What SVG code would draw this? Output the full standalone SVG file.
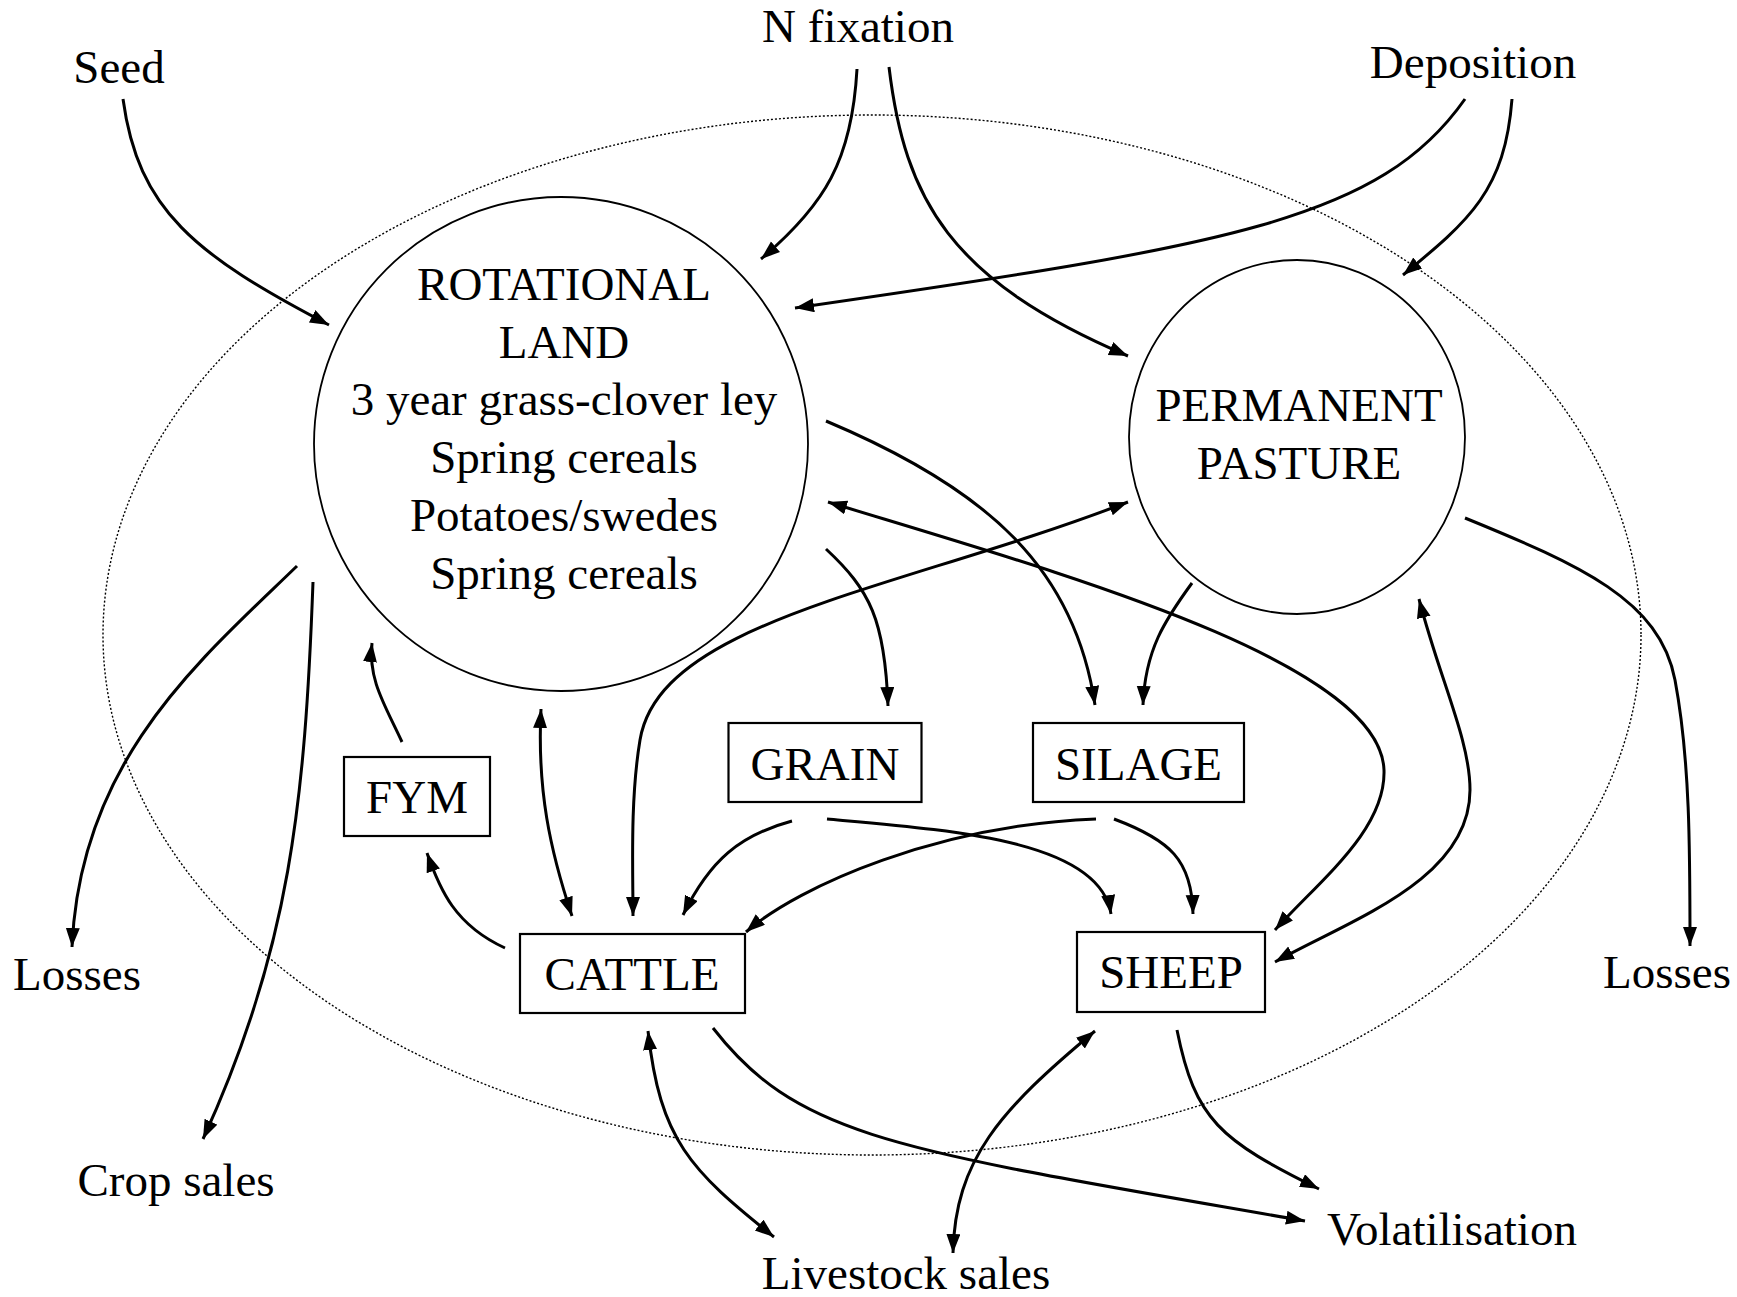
<svg xmlns="http://www.w3.org/2000/svg" width="1737" height="1297" viewBox="0 0 1737 1297">
<style>
text{font-family:"Liberation Serif","Times New Roman",serif;font-size:47px;fill:#000;text-anchor:middle}
.c{fill:none;stroke:#000;stroke-width:3}
.a{marker-end:url(#ah)}
.d{marker-start:url(#ah);marker-end:url(#ah)}
.n{fill:#fff;stroke:#000;stroke-width:1.8}
.b{fill:#fff;stroke:#000;stroke-width:2.2}
</style>
<defs>
<marker id="ah" markerUnits="userSpaceOnUse" markerWidth="22" markerHeight="16" refX="19" refY="7" orient="auto-start-reverse">
<path d="M0,0 L19,7 L0,14 z" fill="#000"/>
</marker>
</defs>
<rect width="1737" height="1297" fill="#fff"/>
<ellipse id="farm-boundary" cx="872" cy="635" rx="769" ry="520" fill="none" stroke="#000" stroke-width="1.4" stroke-dasharray="2,2"/>
<g id="rotational-land"><circle class="n" cx="561" cy="444" r="247"/>
<text x="564" y="300">ROTATIONAL</text><text x="564" y="358">LAND</text><text x="564" y="415">3 year grass-clover ley</text><text x="564" y="473">Spring cereals</text><text x="564" y="531">Potatoes/swedes</text><text x="564" y="589">Spring cereals</text></g>
<g id="permanent-pasture"><ellipse class="n" cx="1297" cy="437" rx="168" ry="177"/>
<text x="1299" y="421">PERMANENT</text><text x="1299" y="479">PASTURE</text></g>
<g id="fym"><rect class="b" x="344" y="757" width="146" height="79"/><text x="417" y="813">FYM</text></g>
<g id="grain"><rect class="b" x="728.5" y="723" width="193" height="79"/><text x="825" y="780">GRAIN</text></g>
<g id="silage"><rect class="b" x="1033" y="723" width="211" height="79"/><text x="1138.5" y="780">SILAGE</text></g>
<g id="cattle"><rect class="b" x="520" y="934" width="225" height="79"/><text x="632" y="990">CATTLE</text></g>
<g id="sheep"><rect class="b" x="1077" y="932" width="188" height="80"/><text x="1171" y="988">SHEEP</text></g>
<g id="seed"><text x="119" y="83">Seed</text></g>
<g id="n-fixation"><text x="858" y="42">N fixation</text></g>
<g id="deposition"><text x="1473" y="78">Deposition</text></g>
<g id="losses-left"><text x="77" y="990">Losses</text></g>
<g id="losses-right"><text x="1667" y="988">Losses</text></g>
<g id="crop-sales"><text x="176" y="1196">Crop sales</text></g>
<g id="livestock-sales"><text x="906" y="1289">Livestock sales</text></g>
<g id="volatilisation"><text x="1452" y="1245">Volatilisation</text></g>
<g id="connectors">
<path class="c a" d="M123,99 C138,210 195,255 329,325"/>
<path class="c a" d="M857,69 C852,160 825,205 761,259"/>
<path class="c a" d="M889,67 C905,200 950,280 1128,356"/>
<path class="c a" d="M1465,99 C1380,220 1230,245 795,308"/>
<path class="c a" d="M1512,99 C1505,190 1470,220 1403,275"/>
<path class="c a" d="M826,421 C990,490 1075,570 1095,705"/>
<path class="c a" d="M1192,583 C1165,620 1145,650 1143,705"/>
<path class="c d" d="M828,502 C1050,570 1380,660 1384,770 C1386,830 1320,880 1275,930"/>
<path class="c d" d="M1128,502 C900,590 660,620 640,740 C630,800 633,870 633,916"/>
<path class="c a" d="M826,549 C870,590 885,620 888,706"/>
<path class="c a" d="M297,566 C200,660 80,760 72,947"/>
<path class="c a" d="M313,582 C305,800 290,950 203,1139"/>
<path class="c a" d="M402,742 C385,705 368,680 372,643"/>
<path class="c a" d="M505,948 C455,925 440,890 427,853"/>
<path class="c d" d="M541,709 C537,790 550,850 572,916"/>
<path class="c a" d="M792,821 C740,835 710,860 683,915"/>
<path class="c a" d="M827,819 C950,830 1100,840 1111,914"/>
<path class="c a" d="M1096,819 C940,825 800,885 746,932"/>
<path class="c a" d="M1114,819 C1170,840 1192,860 1193,914"/>
<path class="c a" d="M1465,518 C1580,565 1660,600 1675,680 C1690,760 1690,850 1690,946"/>
<path class="c d" d="M1419,599 C1440,680 1470,740 1470,790 C1470,880 1350,920 1275,962"/>
<path class="c a" d="M713,1028 C800,1140 900,1150 1305,1221"/>
<path class="c a" d="M1177,1030 C1195,1120 1220,1140 1319,1189"/>
<path class="c d" d="M648,1031 C660,1140 690,1170 774,1237"/>
<path class="c d" d="M1095,1031 C1000,1110 955,1160 953,1253"/>
</g>
</svg>
